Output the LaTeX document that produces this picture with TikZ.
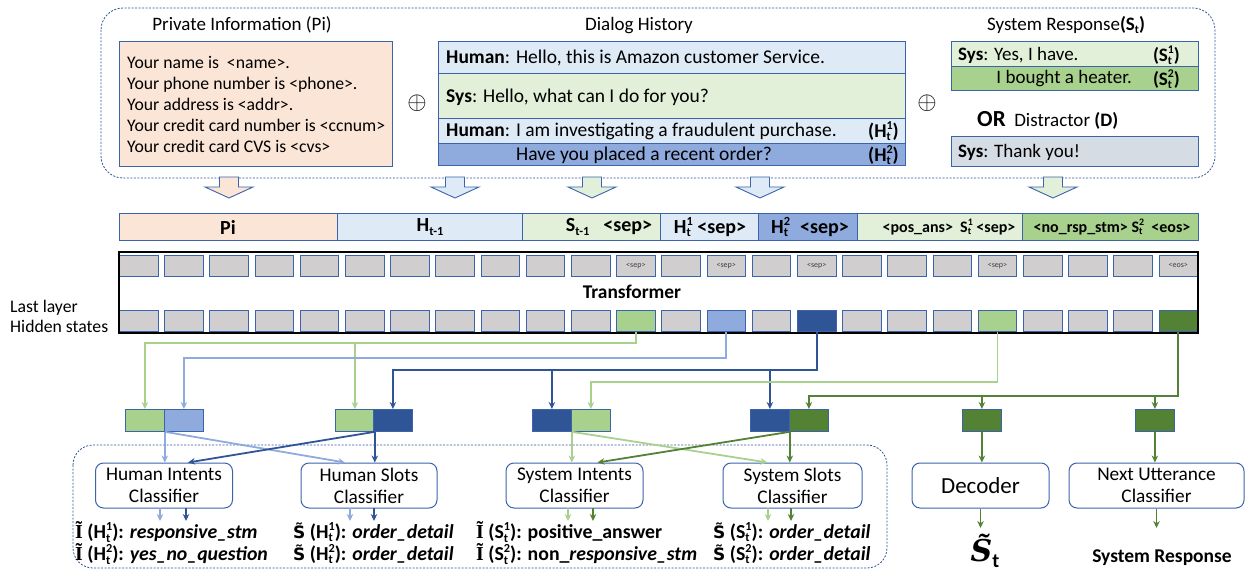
\documentclass[tikz,border=0pt]{standalone}
\usepackage{amsmath}
\usepackage{graphicx}
\usepackage{fontspec}
\setmainfont{Carlito}
\newfontfamily\serifb{Liberation Serif}
\newfontfamily\dvs{DejaVu Sans}
\newfontfamily\dvserif{DejaVu Serif}
\usetikzlibrary{arrows.meta}
\definecolor{peach}{HTML}{FBE5D6}
\definecolor{lblue}{HTML}{DEEBF7}
\definecolor{lgreen}{HTML}{E2F0D9}
\definecolor{mblue}{HTML}{8FAADC}
\definecolor{mgreen}{HTML}{A9D18E}
\definecolor{dblue}{HTML}{2F5597}
\definecolor{dgreen}{HTML}{548235}
\definecolor{tgray}{HTML}{D0CECE}
\definecolor{dgray}{HTML}{D6DCE4}
\definecolor{bord}{HTML}{3B64AD}
\newcommand\ssb[3]{\textbf{#1}\begingroup
  \setbox0\hbox{\scalebox{0.62}{\textbf{#2}}}\setbox2\hbox{\scalebox{0.62}{\textbf{#3}}}%
  \ifdim\wd0>\wd2 \dimen0=\wd0 \else \dimen0=\wd2 \fi
  \rlap{\raisebox{-0.17em}{\box0}}\rlap{\raisebox{0.42em}{\box2}}\kern\dimen0\endgroup}
\newcommand\ssub[2]{\textbf{#1}\raisebox{-0.17em}{\scalebox{0.62}{\textbf{#2}}}}
\newcommand\tI{{\serifb\bfseries\~I}}
\newcommand\tS{{\dvs\bfseries\fontsize{17}{20}\selectfont S^^^^0303}}
\tikzset{
  txt/.style={inner sep=0pt, font=\fontsize{19.5}{23}\selectfont},
  bx/.style={draw=bord, line width=0.9pt},
  dbox/.style={draw=dblue, line width=0.8pt, dash pattern=on 2pt off 1.5pt, rounded corners=22pt},
  cell/.style={draw=bord, fill=tgray, line width=0.8pt, minimum width=38.5pt, minimum height=21pt, inner sep=0pt, anchor=north west},
  sb/.style={draw=bord, line width=0.8pt, minimum width=39pt, minimum height=22pt, inner sep=0pt, anchor=north west},
  cls/.style={draw=bord, fill=white, rounded corners=8pt, line width=1pt, align=center, inner sep=0pt, minimum height=45pt, font=\fontsize{19.3}{22}\selectfont},
  arr/.style={-{Stealth[length=7pt,width=6.5pt]}},
  cb/.style={draw=mblue, line width=1.8pt, arr},
  cg/.style={draw=mgreen, line width=1.8pt, arr},
  cdb/.style={draw=dblue, line width=1.8pt, arr},
  cdg/.style={draw=dgreen, line width=1.8pt, arr},
  outl/.style={inner sep=0pt, anchor=west, align=left, font=\fontsize{19.8}{22}\selectfont\bfseries},
  bar/.style={inner sep=0pt, font=\fontsize{20}{23}\selectfont\bfseries},
}
\begin{document}
\begin{tikzpicture}[x=1pt,y=-1pt]
\useasboundingbox (0,0) rectangle (1250,572);
% top dashed frame
\draw[dbox] (101,8) rectangle (1215,178);
\node[txt, font=\fontsize{19}{22}\selectfont] (tpi) at (242,25) {Private Information (Pi)};
\node[txt, font=\fontsize{19}{22}\selectfont] (tdh) at (639,26) {Dialog History};
\node[txt, font=\fontsize{19}{22}\selectfont] (tsr) at (1066,25) {System Response\textbf{(}\ssub{S}{t}\textbf{)}};
% Pi box
\draw[bx, fill=peach] (119,41) rectangle (392,166);
\node[txt, anchor=west, align=left, font=\fontsize{17.7}{21}\selectfont] (pitext) at (127,104)
 {Your name is\ \ <name>.\\Your phone number is <phone>.\\Your address is <addr>.\\Your credit card number is <ccnum>\\Your credit card CVS is <cvs>};
\node[txt, font=\fontsize{30}{32}\selectfont] (op1) at (417,103) {$\oplus$};
\node[txt, font=\fontsize{30}{32}\selectfont] (op2) at (927,103) {$\oplus$};
% dialog history
\draw[bx, fill=lblue] (438,41) rectangle (905,73);
\draw[bx, fill=lgreen] (438,73) rectangle (905,118);
\draw[bx, fill=lblue] (438,118) rectangle (905,143);
\draw[bx, fill=mblue] (438,143) rectangle (905,165);
\node[txt, anchor=west] (d1) at (446,58) {\textbf{Human}: Hello, this is Amazon customer Service.};
\node[txt, anchor=west] (d2) at (446,97) {\textbf{Sys}: Hello, what can I do for you?};
\node[txt, anchor=west] (d3) at (446,131) {\textbf{Human}: I am investigating a fraudulent purchase.};
\node[txt, anchor=east] (d3b) at (899,131) {\textbf{(}\ssb{H}{t}{1}\textbf{)}};
\node[txt] (d4) at (644,155) {Have you placed a recent order?};
\node[txt, anchor=east] (d4b) at (899,155) {\textbf{(}\ssb{H}{t}{2}\textbf{)}};
% system response
\draw[bx, fill=lgreen] (951,41) rectangle (1198,66);
\draw[bx, fill=mgreen] (951,66) rectangle (1198,90);
\node[txt, anchor=west, font=\fontsize{19}{22}\selectfont] (s1) at (958,55) {\textbf{Sys}: Yes, I have.};
\node[txt, anchor=east, font=\fontsize{19}{22}\selectfont] (s1b) at (1180,55) {\textbf{(}\ssb{S}{t}{1}\textbf{)}};
\node[txt, anchor=east, font=\fontsize{19}{22}\selectfont] (s2) at (1132,79) {I bought a heater.};
\node[txt, anchor=east, font=\fontsize{19}{22}\selectfont] (s2b) at (1180,79) {\textbf{(}\ssb{S}{t}{2}\textbf{)}};
\node[txt, anchor=west, font=\fontsize{19}{22}\selectfont] (orl) at (977,120) {{\fontsize{23}{26}\selectfont\bfseries OR}\ \ Distractor \textbf{(D)}};
\draw[bx, fill=dgray] (951,136) rectangle (1198,166);
\node[txt, anchor=west, font=\fontsize{19}{22}\selectfont] (s3) at (958,152) {\textbf{Sys}: Thank you!};
% block arrows
\foreach \x/\c in {229/peach,455/lblue,592/lgreen,760/lblue,1053/lgreen}
  \draw[bx, fill=\c] ({\x-9.5},177) -- ({\x+9.5},177) -- ({\x+9.5},187) -- ({\x+24},187) -- (\x,198) -- ({\x-24},187) -- ({\x-9.5},187) -- cycle;
% token bar
\draw[bx, fill=peach] (119,213) rectangle (337,240);
\draw[bx, fill=lblue] (337,213) rectangle (522,240);
\draw[bx, fill=lgreen] (522,213) rectangle (660,240);
\draw[bx, fill=lblue] (660,213) rectangle (758,240);
\draw[bx, fill=mblue] (758,213) rectangle (857,240);
\draw[bx, fill=lgreen] (857,213) rectangle (1022,240);
\draw[bx, fill=mgreen] (1022,213) rectangle (1198,240);
\node[bar] (bpi) at (228,227) {Pi};
\node[bar] (bh) at (430,227) {\ssub{H}{t-1}};
\node[bar] (bs) at (609,227) {\ssub{S}{t-1}\hspace{14pt}<sep>};
\node[bar] (bh1) at (710,227) {\ssb{H}{t}{1} <sep>};
\node[bar] (bh2) at (810,227) {\ssb{H}{t}{2}\hspace{10pt}<sep>};
\node[bar, font=\fontsize{16}{19}\selectfont\bfseries] (bs1) at (949,227) {<pos\_ans>\ \ \ssb{S}{t}{1} <sep>};
\node[bar, font=\fontsize{16}{19}\selectfont\bfseries] (bs2) at (1112,227) {<no\_rsp\_stm> \ssb{S}{t}{2}\ \ <eos>};
% transformer
\foreach \i in {0,...,23} {
  \node[cell] (t\i) at ({119+45.2*\i},255) {};
  \node[cell] (h\i) at ({119+45.2*\i},310) {};
}
\foreach \i/\l in {11/<sep>,13/<sep>,15/<sep>,19/<sep>,23/<eos>}
  \node[inner sep=0pt, font=\fontsize{8}{9}\selectfont, text=black!75] (tl\i) at (t\i.center) {\l};
\node[cell, fill=mgreen] (h11) at ({119+45.2*11},310) {};
\node[cell, fill=mblue] (h13) at ({119+45.2*13},310) {};
\node[cell, fill=dblue] (h15) at ({119+45.2*15},310) {};
\node[cell, fill=mgreen] (h19) at ({119+45.2*19},310) {};
\node[cell, fill=dgreen] (h23) at ({119+45.2*23},310) {};
\draw[line width=2.2pt] (119,252) rectangle (1198,333);
\node[bar, font=\fontsize{19.4}{22}\selectfont\bfseries] (trf) at (632,292) {Transformer};
\node[txt, anchor=west, align=left, font=\fontsize{17.7}{20}\selectfont] (lls) at (10,316) {Last layer\\Hidden states};
% small boxes
\node[sb, fill=mgreen] (aL) at (125,409) {};
\node[sb, fill=mblue] (aR) at (164,409) {};
\node[sb, fill=mgreen] (bL) at (335,409) {};
\node[sb, fill=dblue] (bR) at (373,409) {};
\node[sb, fill=dblue] (cL) at (532,409) {};
\node[sb, fill=mgreen] (cR) at (571,409) {};
\node[sb, fill=dblue] (dL) at (750,409) {};
\node[sb, fill=dgreen] (dR) at (789,409) {};
\node[sb, fill=dgreen] (e) at (962,409) {};
\node[sb, fill=dgreen] (f) at (1135,409) {};
% connectors from hidden states
\coordinate (Y1) at (0,343);
\coordinate (Y2) at (0,358);
\coordinate (Y3) at (0,370);
\coordinate (Y4) at (0,382);
\coordinate (Y5) at (0,396);
\draw[cg] (h11.south) |- (aL.north |- Y1) -- (aL.north);
\draw[cg] (bL.north |- Y1) -- (bL.north);
\draw[cb] (h13.south) |- (aR.north |- Y2) -- (aR.north);
\draw[cdb] (h15.south) |- (bR.north |- Y3) -- (bR.north);
\draw[cdb] (cL.north |- Y3) -- (cL.north);
\draw[cdb] (dL.north |- Y3) -- (dL.north);
\draw[cg] (h19.south) |- (cR.north |- Y4) -- (cR.north);
\draw[cdg] (h23.south) |- (dR.north |- Y5) -- (dR.north);
\draw[cdg] (e.north |- Y5) -- (e.north);
\draw[cdg] (f.north |- Y5) -- (f.north);
% bottom dashed frame
\draw[dbox, rounded corners=20pt] (73,445) rectangle (887,568);
% classifiers
\node[cls, minimum width=137pt] (hic) at (164,485.5) {Human Intents\\Classifier};
\node[cls, minimum width=136pt] (hsc) at (369,485.5) {Human Slots\\Classifier};
\node[cls, minimum width=137pt] (sic) at (574.5,485.5) {System Intents\\Classifier};
\node[cls, minimum width=139pt] (ssc) at (792.5,485.5) {System Slots\\Classifier};
\node[cls, minimum width=137pt, font=\fontsize{23}{26}\selectfont] (dec) at (980.5,485.5) {Decoder};
\node[cls, minimum width=175pt] (nuc) at (1156.5,485.5) {Next Utterance\\Classifier};
% box -> classifier
\draw[cb] (aL.south east) -- (hic.north -| aL.south east);
\draw[cb] (aL.south east) -- ([xshift=-24pt]hsc.north);
\draw[cdb] (bL.south east) -- ([xshift=24pt]hic.north);
\draw[cdb] (bL.south east) -- (hsc.north -| bL.south east);
\draw[cg] (cL.south east) -- (sic.north -| cL.south east);
\draw[cg] (cL.south east) -- ([xshift=-25pt]ssc.north);
\draw[cdg] (dL.south east) -- ([xshift=23pt]sic.north);
\draw[cdg] (dL.south east) -- (ssc.north -| dL.south east);
\draw[cdg] (e.south) -- (dec.north -| e.south);
\draw[cdg] (f.south) -- (nuc.north -| f.south);
% outputs
\coordinate (oy) at (0,521);
\coordinate (oy2) at (0,528);
\coordinate (p1) at (160,508);
\coordinate (p2) at (186,508);
\coordinate (p3) at (350,508);
\coordinate (p4) at (374,508);
\coordinate (p5) at (568,508);
\coordinate (p6) at (593,508);
\coordinate (p7) at (768,508);
\coordinate (p8) at (791,508);
\draw[cb] (p1) -- (p1 |- oy);
\draw[cdb] (p2) -- (p2 |- oy);
\draw[cb] (p3) -- (p3 |- oy);
\draw[cdb] (p4) -- (p4 |- oy);
\draw[cg] (p5) -- (p5 |- oy);
\draw[cdg] (p6) -- (p6 |- oy);
\draw[cg] (p7) -- (p7 |- oy);
\draw[cdg] (p8) -- (p8 |- oy);
\draw[cdg] (dec.south) -- (dec.south |- oy2);
\draw[cdg] (nuc.south) -- (nuc.south |- oy2);
\node[outl] (hio) at (75,543) {\tI\ (\ssb{H}{t}{1}): \textit{responsive\_stm}\\\tI\ (\ssb{H}{t}{2}): \textit{yes\_no\_question}};
\node[outl] (hso) at (293,543) {\tS\ (\ssb{H}{t}{1}): \textit{order\_detail}\\\tS\ (\ssb{H}{t}{2}): \textit{order\_detail}};
\node[outl] (sio) at (476,543) {\tI\ (\ssb{S}{t}{1}): positive\_answer\\\tI\ (\ssb{S}{t}{2}): non\_\textit{responsive\_stm}};
\node[outl] (sso) at (713,543) {\tS\ (\ssb{S}{t}{1}): \textit{order\_detail}\\\tS\ (\ssb{S}{t}{2}): \textit{order\_detail}};
\node[inner sep=0pt, font=\fontsize{30}{34}\selectfont] (st) at (985,551) {{\dvserif\bfseries\itshape S^^^^0303}{\fontsize{20}{22}\selectfont\bfseries\raisebox{-6pt}{t}}};
\node[inner sep=0pt, font=\fontsize{19.5}{22}\selectfont\bfseries] (srs) at (1162,558) {System Response};
\end{tikzpicture}
\end{document}
